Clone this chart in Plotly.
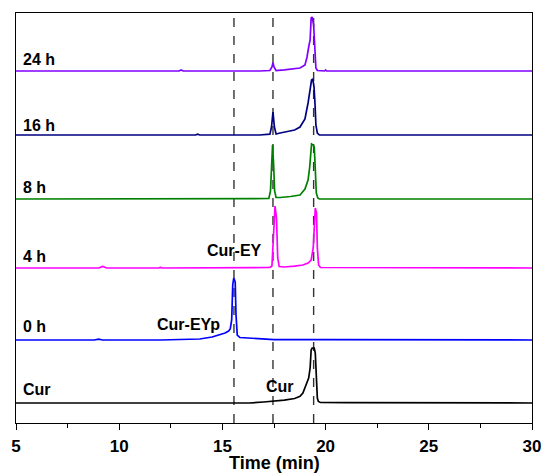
import plotly.graph_objects as go

# ---------------- data ----------------
trace_names = ["Cur", "0 h", "4 h", "8 h", "16 h", "24 h"]
trace_colors = ["#000000", "#0000FF", "#FF00FF", "#008000", "#000080", "#8000FF"]
offsets = [20, 83, 155, 224, 288, 352]

cur_t = [5, 10, 14, 16.3, 17.0, 17.5, 18.0, 18.5, 18.76, 18.9, 19.0, 19.1, 19.18, 19.25, 19.3, 19.35, 19.45, 19.5, 19.55, 19.6, 19.65, 19.75, 21, 22.2, 22.3, 22.4, 30]
cur_v = [0, 0, 0, 0, 1.0, 1.7, 2.8, 4.5, 6.6, 10, 16, 22, 25, 35, 53, 55, 55, 50, 20, 5, 1.5, 0.5, 0.3, 0.2, 0.9, 0.2, 0]

h0_t = [5, 8.8, 9.0, 9.2, 12, 13.9, 14.5, 14.88, 15.13, 15.3, 15.38, 15.45, 15.5, 15.55, 15.62, 15.66, 15.72, 15.85, 16.3, 16.8, 17.5, 20, 30]
h0_v = [0, 0, 0.9, 0, 0, 1.0, 3.0, 5, 7, 9, 11, 20, 55, 62, 58, 25, 5, 2.5, 2.0, 1.0, 0.4, 0.3, 0]

h4_t = [5, 9.0, 9.2, 9.4, 11.9, 12.0, 12.1, 16.5, 17.3, 17.4, 17.48, 17.55, 17.62, 17.68, 17.75, 18.0, 18.5, 18.9, 19.15, 19.3, 19.4, 19.45, 19.5, 19.56, 19.6, 19.66, 19.75, 30]
h4_v = [0, 0, 1.5, 0, 0, 0.6, 0, 0, 0.5, 2, 40, 62, 50, 10, 1.5, 1.0, 1.8, 3, 5, 8, 20, 45, 60, 55, 20, 3, 0.5, 0]

h8_t = [5, 12, 16.5, 17.25, 17.33, 17.38, 17.43, 17.48, 17.53, 17.6, 17.8, 18.3, 18.76, 19.0, 19.15, 19.23, 19.28, 19.32, 19.4, 19.45, 19.5, 19.55, 19.62, 19.7, 30]
h8_v = [0, 0, 0, 0.5, 8, 40, 54, 35, 8, 1.5, 1.5, 2.5, 4, 10, 19, 32, 50, 55, 54, 52, 30, 6, 1, 0, 0]

h16_t = [5, 13.7, 13.8, 13.9, 16.8, 17.3, 17.38, 17.45, 17.52, 17.6, 17.8, 18.03, 18.5, 18.76, 19.0, 19.15, 19.25, 19.32, 19.38, 19.44, 19.49, 19.53, 19.6, 19.7, 30]
h16_v = [0, 0, 0.8, 0, 0, 0.8, 8, 23, 8, 1.0, 2, 3, 5, 8, 16, 32, 48, 55, 56, 48, 30, 10, 2, 0, 0]

h24_t = [5, 12.9, 13.0, 13.1, 16.8, 17.3, 17.4, 17.45, 17.5, 17.6, 18.0, 18.5, 18.76, 19.0, 19.1, 19.18, 19.25, 19.3, 19.35, 19.42, 19.47, 19.53, 19.6, 19.95, 20.0, 20.05, 30]
h24_v = [0, 0, 1.0, 0, 0, 0.5, 4, 8.3, 4, 0.5, 1.2, 2, 3, 6, 14, 24, 31, 53, 54, 46, 21, 3, 0.5, 0, 1.0, 0, 0]

dashed_positions = [15.56, 17.45, 19.42]

x_ticks = [5, 10, 15, 20, 25, 30]
x_tick_text = ["5", "10", "15", "20", "25", "30"]

row_labels = ["Cur", "0 h", "4 h", "8 h", "16 h", "24 h"]
peak_labels = ["Cur", "Cur-EYp", "Cur-EY"]

# ---------------- figure ----------------
series = [(cur_t, cur_v), (h0_t, h0_v), (h4_t, h4_v), (h8_t, h8_v), (h16_t, h16_v), (h24_t, h24_v)]

fig = go.Figure()
for (t, v), name, col, off in zip(series, trace_names, trace_colors, offsets):
    fig.add_trace(go.Scatter(
        x=t, y=[val + off for val in v], mode="lines", name=name,
        line=dict(color=col, width=1.7), showlegend=False, hoverinfo="skip"))

for xp in dashed_positions:
    fig.add_shape(type="line", x0=xp, x1=xp, y0=0, y1=1, xref="x", yref="paper",
                  line=dict(color="#333333", width=1.4, dash="dash"), layer="below")

font_b = "Arial, Liberation Sans, sans-serif"

# row labels
label_y = [offsets[i] + d for i, d in enumerate([14, 14, 12, 12, 10, 12])]
for txt, yy in zip(row_labels, label_y):
    fig.add_annotation(x=5.25, y=yy, xref="x", yref="y", text="<b>%s</b>" % txt,
                       showarrow=False, xanchor="left", yanchor="middle",
                       font=dict(family=font_b, size=16, color="black"))

# peak labels
peak_pos = [(17.79, offsets[0] + 17), (13.36, offsets[1] + 16), (15.59, offsets[2] + 18)]
for txt, (xx, yy) in zip(peak_labels, peak_pos):
    fig.add_annotation(x=xx, y=yy, xref="x", yref="y", text="<b>%s</b>" % txt,
                       showarrow=False, xanchor="center", yanchor="middle",
                       font=dict(family=font_b, size=16, color="black"))

# axis title as annotation for exact placement
fig.add_annotation(x=0.5, y=-0.098, xref="paper", yref="paper", text="<b>Time (min)</b>",
                   showarrow=False, xanchor="center", yanchor="middle",
                   font=dict(family=font_b, size=18, color="black"))

fig.update_layout(
    width=544, height=474,
    margin=dict(l=16, r=12, t=13, b=51, autoexpand=False),
    plot_bgcolor="white", paper_bgcolor="white",
    xaxis=dict(range=[5, 30], tickvals=x_ticks,
               ticktext=["<b>%s</b>" % s for s in x_tick_text],
               ticks="outside", ticklen=6, tickwidth=1.3, ticklabelstandoff=1,
               tickcolor="black", showline=True, linecolor="black", linewidth=1.3,
               mirror=True, showgrid=False, zeroline=False, automargin=False,
               minor=dict(ticks="outside", ticklen=4, tickwidth=1.2, tickcolor="black", dtick=2.5),
               tickfont=dict(family=font_b, size=17, color="black")),
    yaxis=dict(range=[0, 410], showticklabels=False, ticks="", showline=True, automargin=False,
               linecolor="black", linewidth=1.3, mirror=True, showgrid=False, zeroline=False),
)

fig.write_html("out.html")
